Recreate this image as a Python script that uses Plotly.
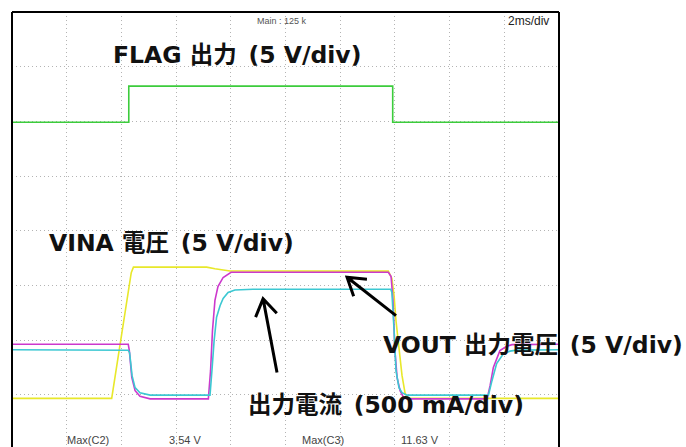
import math
import plotly.graph_objects as go

# ---- waveform data (time in ms, 2 ms/div) ----
flag_t = [0, 4.27, 4.27, 13.92, 13.92, 20]
flag_v = [0, 0, 3.3, 3.3, 0, 0]

vina_t = [0, 3.645, 4.36, 4.44, 7.12, 7.42, 7.97, 13.76, 13.89, 13.97, 14.04,
          14.15, 14.26, 14.37, 14.48, 20]
vina_v = [0, 0, 11.5, 12.0, 12.0, 11.85, 11.65, 11.63, 10.96, 9.4, 7.1,
          4.4, 2.1, 0.5, 0, 0]

vout_t = [0, 4.25, 4.29, 4.38, 4.50, 4.68, 5.05, 7.18, 7.26, 7.33, 7.42, 7.53,
          7.72, 8.01, 13.76, 13.86, 13.93, 14.0, 14.08, 14.19, 14.30, 14.44,
          17.37, 17.48, 17.60, 17.84, 18.09, 18.28, 20]
vout_v = [5.0, 5.0, 4.41, 1.97, 0.75, 0.23, 0, 0, 2.58, 6.25, 9.0, 10.27,
          11.1, 11.58, 11.58, 11.19, 9.0, 4.41, 1.94, 0.75, 0.2, 0,
          0, 1.21, 2.88, 4.41, 4.81, 4.96, 5.0]

iout_t = [0, 4.25, 4.30, 4.39, 4.50, 4.68, 5.05, 7.24, 7.31, 7.39, 7.48, 7.61,
          7.72, 7.90, 8.15, 8.81, 13.85, 13.89, 13.97, 14.04, 14.15, 14.26,
          14.44, 17.42, 17.55, 17.72, 17.96, 18.21, 18.45, 20]
iout_ma = [415, 410, 388, 178, 68, 22, 0, 0, 223, 498, 712, 819,
           883, 938, 961, 968, 968, 938, 590, 223, 68, 22,
           0, 0, 132, 288, 376, 402, 411, 415]

# measurement readouts along the bottom of the screen
meas_names = ["Max(C2)", "Max(C3)"]
meas_values = ["3.54 V", "11.63 V"]

# ---- scope settings: ground position (div from bottom) and scale per div ----
N_XDIV, N_YDIV = 10, 8
MS_PER_DIV = 2
FLAG_POS, FLAG_SCALE = 5.985, 5      # V/div
VINA_POS, VINA_SCALE = 0.936, 5      # V/div
VOUT_POS, VOUT_SCALE = 0.927, 5      # V/div
IOUT_POS, IOUT_SCALE = 0.996, 500    # mA/div

W, H = 686, 447
ML, MR, MT = 12, 127, 12
PLOT_W = W - ML - MR
PX_PER_DIV = PLOT_W / N_XDIV
PLOT_H = H - MT
Y_BOTTOM = N_YDIV - PLOT_H / PX_PER_DIV   # screen bottom cuts the last division
X_MAX = N_XDIV * MS_PER_DIV
PX_PER_MS = PLOT_W / X_MAX


def ch_range(pos, scale):
    return [(Y_BOTTOM - pos) * scale, (N_YDIV - pos) * scale]


fig = go.Figure()
fig.add_trace(go.Scatter(x=vina_t, y=vina_v, yaxis="y3", mode="lines",
                         line=dict(color="#e8e82a", width=1.6), name="VINA"))
fig.add_trace(go.Scatter(x=vout_t, y=vout_v, yaxis="y4", mode="lines",
                         line=dict(color="#cc38cc", width=1.6), name="VOUT"))
fig.add_trace(go.Scatter(x=iout_t, y=iout_ma, yaxis="y5", mode="lines",
                         line=dict(color="#3cc8d2", width=1.6), name="IOUT"))
fig.add_trace(go.Scatter(x=flag_t, y=flag_v, yaxis="y2", mode="lines",
                         line=dict(color="#3ccc3c", width=1.6), name="FLAG"))

grid = dict(showgrid=True, gridcolor="#b4b4b4", gridwidth=1, griddash="1px,3px",
            showticklabels=False, ticks="", zeroline=False, showline=False,
            fixedrange=True)
hidden = dict(visible=False, overlaying="y", showgrid=False, zeroline=False)

fig.update_layout(
    width=W, height=H,
    margin=dict(l=ML, r=MR, t=MT, b=0, pad=0),
    paper_bgcolor="white", plot_bgcolor="white",
    showlegend=False,
    xaxis=dict(range=[0, X_MAX], tickvals=[i * MS_PER_DIV for i in range(1, N_XDIV)], **grid),
    yaxis=dict(range=[Y_BOTTOM, N_YDIV], tickvals=list(range(1, N_YDIV)), **grid),
    yaxis2=dict(range=ch_range(FLAG_POS, FLAG_SCALE), **hidden),
    yaxis3=dict(range=ch_range(VINA_POS, VINA_SCALE), **hidden),
    yaxis4=dict(range=ch_range(VOUT_POS, VOUT_SCALE), **hidden),
    yaxis5=dict(range=ch_range(IOUT_POS, IOUT_SCALE), **hidden),
)

# screen frame (bottom edge runs off the picture)
frame = dict(color="black", width=2)
fig.add_shape(type="line", xref="paper", yref="paper", x0=0, x1=0, y0=0, y1=1, line=frame)
fig.add_shape(type="line", xref="paper", yref="paper", x0=0, x1=1, y0=1, y1=1, line=frame)
fig.add_shape(type="line", xref="paper", yref="paper", x0=1, x1=1, y0=0, y1=1, line=frame)


def arrow(tail, tip, arm_px=20, spread=0.57):
    """Open chevron arrow drawn as a path in (ms, div) coordinates."""
    tx, ty = tail
    hx, hy = tip
    dx = (tx - hx) * PX_PER_MS
    dy = (ty - hy) * PX_PER_DIV
    ang = math.atan2(dy, dx)
    pts = []
    for s in (spread, -spread):
        a = ang + s
        pts.append((hx + arm_px * math.cos(a) / PX_PER_MS,
                    hy + arm_px * math.sin(a) / PX_PER_DIV))
    path = (f"M{tx},{ty} L{hx},{hy} M{pts[0][0]},{pts[0][1]} "
            f"L{hx},{hy} L{pts[1][0]},{pts[1][1]}")
    fig.add_shape(type="path", xref="x", yref="y", path=path,
                  line=dict(color="black", width=3))


arrow((9.69, 1.41), (9.18, 2.76))
arrow((14.04, 2.45), (12.25, 3.15))

big = dict(family="DejaVu Sans, Noto Sans CJK JP", size=23.5, color="#111111", weight=700)
small = dict(family="Liberation Sans, Arial", color="#333333")


def label(text, x, y, font, anchor="left"):
    fig.add_annotation(text=text, x=x, y=y, xref="x", yref="y", showarrow=False,
                       xanchor=anchor, yanchor="middle", font=font, borderpad=0)


GAP = "\u2002"
label(f"FLAG 出力{GAP}(5 V/div)", 3.64, 7.21, big)
label(f"VINA 電圧{GAP}(5 V/div)", 1.32, 3.77, big)
label(f"VOUT 出力電圧{GAP}(5 V/div)", 13.54, 1.92, big)
label(f"出力電流{GAP}(500 mA/div)", 8.59, 0.82, big)

label("Main : 125 k", 9.88, 7.83, dict(small, size=9, color="#555555"), anchor="center")
label("2ms/div", 18.1, 7.83, dict(small, size=12, color="#222222"))

meas_font = dict(small, size=11, color="#444444")
for name, value, xn, xv in zip(meas_names, meas_values, [1.96, 10.55], [5.7, 14.18]):
    label(name, xn, 0.18, meas_font)
    label(value, xv, 0.18, meas_font)

fig.write_html("out.html")
